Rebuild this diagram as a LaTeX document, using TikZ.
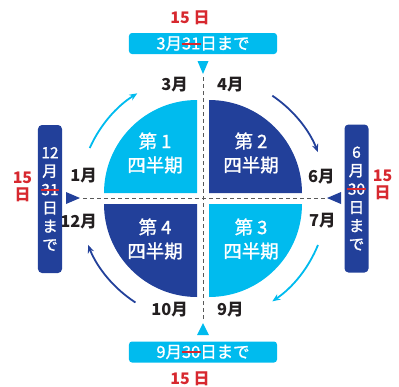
\documentclass[tikz,border=0pt]{standalone}
\usepackage{fontspec}
\setmainfont{Noto Sans CJK JP}
\newfontfamily\jpmed{Noto Sans CJK JP}[FakeBold=1.2]
\usetikzlibrary{arrows.meta}
\definecolor{jcyan}{HTML}{00BBEE}
\definecolor{jnavy}{HTML}{22409A}
\definecolor{jred}{HTML}{D7282F}
\definecolor{jtext}{HTML}{231F20}
\newcommand\strk[1]{\sbox0{#1}\usebox0\llap{\textcolor{jred}{\rule[0.28em]{\dimexpr\wd0+1pt\relax}{1.8pt}}\kern-0.5pt}}
\begin{document}
\begin{tikzpicture}[x=1bp,y=-1bp,
  month/.style={font=\fontsize{16.5}{16.5}\selectfont\bfseries, text=jtext, inner sep=0},
  qtext/.style={font=\jpmed\fontsize{18.5}{24}\selectfont, text=white, align=center, inner sep=0},
  redlab/.style={font=\fontsize{16}{17}\selectfont\bfseries, text=jred, inner sep=0, align=center},
  hbox/.style={fill=jcyan, rounded corners=3bp, minimum width=148bp, minimum height=21bp, inner sep=0, text=white, font=\jpmed\fontsize{16.5}{16.5}\selectfont},
  vbox/.style={fill=jnavy, rounded corners=4bp, minimum width=24bp, minimum height=148bp, inner sep=0, text=white, align=center, font=\jpmed\fontsize{15.5}{18.5}\selectfont},
  arr/.style={line width=1.8bp, -{Stealth[length=8bp,width=6.5bp]}},
  axisline/.style={dash pattern=on 4bp off 3bp, draw=black!65, line width=0.9bp}]
\useasboundingbox (0,0) rectangle (399,387);
\coordinate (C) at (203,198.5);
% quadrants
\fill[jcyan] (197,193) -- (104,193) arc[start angle=180, end angle=270, radius=93] -- cycle;
\fill[jnavy] (209,193) -- (302,193) arc[start angle=0, end angle=-90, radius=93] -- cycle;
\fill[jnavy] (197,204) -- (104,204) arc[start angle=180, end angle=90, radius=93] -- cycle;
\fill[jcyan] (209,204) -- (302,204) arc[start angle=0, end angle=90, radius=93] -- cycle;
\node[qtext] (q1) at (155,153) {第 1\\四半期};
\node[qtext] (q2) at (251,153) {第 2\\四半期};
\node[qtext] (q3) at (251,239) {第 3\\四半期};
\node[qtext] (q4) at (155,239) {第 4\\四半期};
% axes
\coordinate (hl) at (83,198);
\coordinate (hr) at (325,198);
\coordinate (vt) at (203,77);
\coordinate (vb) at (203,320);
\draw[axisline] (hl) -- (hr);
\draw[axisline] (vt) -- (vb);
% triangles
\fill[jcyan] (197.5,61) -- (208.5,61) -- (203,74) -- cycle;
\fill[jcyan] (197,335) -- (209,335) -- (203,323) -- cycle;
\fill[jnavy] (66,192) -- (66,204) -- (80,198) -- cycle;
\fill[jnavy] (341,192) -- (341,204) -- (327,198) -- cycle;
% arrows
\draw[arr, jcyan] (C) ++(204:124) arc[start angle=204, end angle=238, radius=124];
\draw[arr, jnavy] (C) ++(304:124) arc[start angle=304, end angle=338, radius=124];
\draw[arr, jcyan] (C) ++(22:124) arc[start angle=22, end angle=56, radius=124];
\draw[arr, jnavy] (C) ++(123:124) arc[start angle=123, end angle=158, radius=124];
% months
\node[month, anchor=east] (m3) at (188,85) {3月};
\node[month, anchor=west] (m4) at (217,85) {4月};
\node[month, anchor=east] (m1) at (97,176) {1月};
\node[month, anchor=west] (m6) at (308,177) {6月};
\node[month, anchor=east] (m12) at (97,222) {12月};
\node[month, anchor=west] (m7) at (309,221) {7月};
\node[month, anchor=east] (m10) at (188,310) {10月};
\node[month, anchor=west] (m9) at (217,310) {9月};
% deadline boxes
\node[hbox] (tb) at (203,43.5) {3月\strk{31}日まで};
\node[hbox] (bb) at (203,352) {9月\strk{30}日まで};
\node[vbox] (lb) at (50,199) {12\\月\\\strk{31}\\日\\ま\\で};
\node[vbox] (rb) at (356.5,198.5) {6\\月\\\strk{30}\\日\\ま\\で};
% red labels
\node[redlab] (t15) at (190,18) {15 日};
\node[redlab] (b15) at (190,379) {15 日};
\node[redlab] (l15) at (22.5,187) {15\\日};
\node[redlab] (r15) at (382.5,185) {15\\日};
\end{tikzpicture}
\end{document}
